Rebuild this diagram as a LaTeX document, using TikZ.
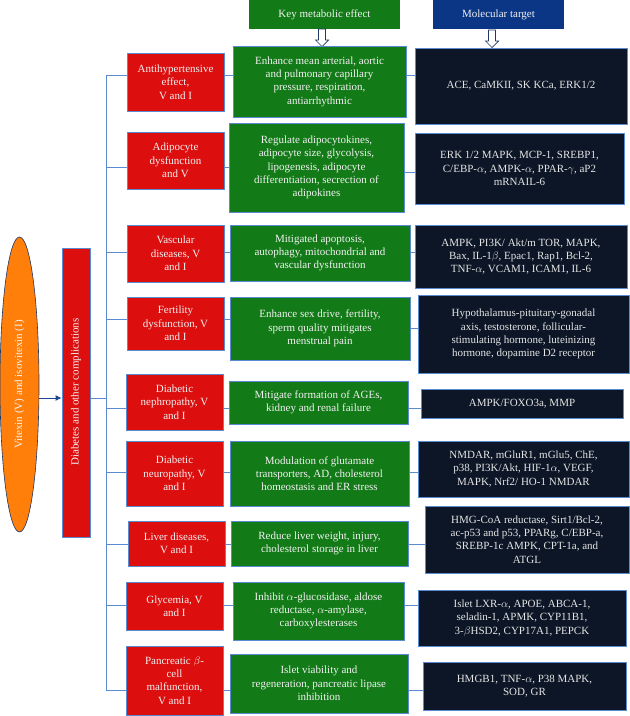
\documentclass[tikz,border=0pt]{standalone}
\usepackage{fontspec}
\setmainfont{Liberation Serif}
\usetikzlibrary{arrows.meta,shapes.geometric}
\definecolor{cred}{HTML}{DD0E0E}
\definecolor{cgreen}{HTML}{137A18}
\definecolor{cdark}{HTML}{0C1626}
\definecolor{chead}{HTML}{0B3585}
\definecolor{corange}{HTML}{FF7F0A}
\definecolor{cline}{HTML}{5A8AD0}
\definecolor{ctxt}{HTML}{F2F2F2}
\definecolor{cnavy}{HTML}{1F3864}
\tikzset{
  basebox/.style={draw=cline, line width=0.8pt, align=center, inner sep=2pt, text=ctxt,
    font=\fontsize{11}{13.3}\selectfont},
  redbox/.style={basebox, fill=cred},
  greenbox/.style={basebox, fill=cgreen},
  darkbox/.style={basebox, fill=cdark, text=black!10},
  headbox/.style={basebox, draw=none, fill=chead},
  conn/.style={draw=cline, line width=0.9pt},
  hollow/.style={draw=cnavy, fill=white, line width=0.7pt},
}
\newcommand\bx[7]{\node[#2, minimum width={#4-#3}, minimum height={#6-#5}] (#1) at ({(#3+#4)/2},{(#5+#6)/2}) {#7};}
\begin{document}
\begin{tikzpicture}[x=1pt,y=-1pt]
\useasboundingbox (0,0) rectangle (630,716);
% headers
\bx{hg}{headbox, fill=cgreen}{249}{400}{0}{29}{Key metabolic effect}
\bx{hb}{headbox}{433}{564}{0}{29}{Molecular target}
\coordinate (ag) at (322,29);
\coordinate (ab) at (492,30);
\draw[hollow] (ag) ++(-3.5,0) -- ++(0,11) -- ++(-3,0) -- ++(6.5,6.5) -- ++(6.5,-6.5) -- ++(-3,0) -- ++(0,-11) -- cycle;
\draw[hollow] (ab) ++(-3.5,0) -- ++(0,11) -- ++(-3,0) -- ++(6.5,6.5) -- ++(6.5,-6.5) -- ++(-3,0) -- ++(0,-11) -- cycle;
% left
\node[draw=cnavy, line width=0.6pt, fill=corange, ellipse, minimum width=39, minimum height=295, inner sep=0pt] (ell) at (19.5,384.5) {};
\node[rotate=90, text=ctxt, font=\fontsize{11}{13.3}\selectfont] (elltxt) at (ell.center) {Vitexin (V) and isovitexin (I)};
\bx{bar}{redbox}{62}{90}{248}{537}{}
\node[rotate=90, text=ctxt, font=\fontsize{11}{13.3}\selectfont] (bartxt) at (76,392) {Diabetes and other complications};
\coordinate (yb) at (0,398);
\draw[conn, -{Latex[length=6pt,width=6pt]}, draw=chead!80!cline, fill=chead!80!cline] (ell.east |- yb) -- (bar.west |- yb);
% trunk
\coordinate (t1) at (106,75);
\coordinate (t2) at (106,167);
\coordinate (t3) at (106,252);
\coordinate (t4) at (106,319);
\coordinate (t5) at (106,408);
\coordinate (t6) at (106,472);
\coordinate (t7) at (106,544);
\coordinate (t8) at (106,605);
\coordinate (t9) at (106,690);
\draw[conn] (bar.east |- yb) -- (t1 |- yb);
\draw[conn] (t1) -- (t9);
% rows
\bx{r1}{redbox}{127}{224}{53}{111}{Antihypertensive\\effect,\\V and I}
\bx{g1}{greenbox}{233}{406}{46}{117}{Enhance mean arterial, aortic\\and pulmonary capillary\\pressure, respiration,\\antiarrhythmic}
\bx{d1}{darkbox}{415}{627}{48}{124}{ACE, CaMKII, SK KCa, ERK1/2}

\bx{r2}{redbox}{127}{224}{132}{189}{Adipocyte\\dysfunction\\and V}
\bx{g2}{greenbox}{229}{404}{123}{212}{Regulate adipocytokines,\\adipocyte size, glycolysis,\\lipogenesis, adipocyte\\differentiation, secrection of\\adipokines}
\bx{d2}{darkbox}{415}{624}{133}{204}{ERK 1/2 MAPK, MCP-1, SREBP1,\\C/EBP-$\alpha$, AMPK-$\alpha$, PPAR-$\gamma$, aP2\\mRNAIL-6}

\bx{r3}{redbox}{127}{224}{225}{282}{Vascular\\diseases, V\\and I}
\bx{g3}{greenbox}{230}{410}{225}{281}{Mitigated apoptosis,\\autophagy, mitochondrial and\\vascular dysfunction}
\bx{d3}{darkbox}{415}{627}{225}{288}{AMPK, PI3K/ Akt/m TOR, MAPK,\\Bax, IL-1$\beta$, Epac1, Rap1, Bcl-2,\\TNF-$\alpha$, VCAM1, ICAM1, IL-6}

\bx{r4}{redbox}{127}{224}{297}{350}{Fertility\\dysfunction, V\\and I}
\bx{g4}{greenbox}{230}{410}{297}{360}{Enhance sex drive, fertility,\\sperm quality mitigates\\menstrual pain}
\bx{d4}{darkbox}{418}{629}{295}{373}{Hypothalamus-pituitary-gonadal\\axis, testosterone, follicular-\\stimulating hormone, luteinizing\\hormone, dopamine D2 receptor}

\bx{r5}{redbox}{126}{223}{374}{430}{Diabetic\\nephropathy, V\\and I}
\bx{g5}{greenbox}{229}{408}{381}{424}{Mitigate formation of AGEs,\\kidney and renal failure}
\bx{d5}{darkbox}{421}{623}{389}{418}{AMPK/FOXO3a, MMP}

\bx{r6}{redbox}{126}{223}{441}{506}{Diabetic\\neuropathy, V\\and I}
\bx{g6}{greenbox}{230}{409}{441}{506}{Modulation of glutamate\\transporters, AD, cholesterol\\homeostasis and ER stress}
\bx{d6}{darkbox}{418}{629}{441}{497}{NMDAR, mGluR1, mGlu5, ChE,\\p38, PI3K/Akt, HIF-1$\alpha$, VEGF,\\MAPK, Nrf2/ HO-1 NMDAR}

\bx{r7}{redbox}{128}{225}{521}{566}{Liver diseases,\\V and I}
\bx{g7}{greenbox}{231}{408}{521}{566}{Reduce liver weight, injury,\\cholesterol storage in liver}
\bx{d7}{darkbox}{425}{629}{506}{573}{HMG-CoA reductase, Sirt1/Bcl-2,\\ac-p53 and p53, PPARg, C/EBP-a,\\SREBP-1c AMPK, CPT-1a, and\\ATGL}

\bx{r8}{redbox}{126}{223}{582}{630}{Glycemia, V\\and I}
\bx{g8}{greenbox}{233}{404}{582}{640}{Inhibit $\alpha$-glucosidase, aldose\\reductase, $\alpha$-amylase,\\carboxylesterases}
\bx{d8}{darkbox}{418}{626}{590}{646}{Islet LXR-$\alpha$, APOE, ABCA-1,\\seladin-1, APMK, CYP11B1,\\3-$\beta$HSD2, CYP17A1, PEPCK}

\bx{r9}{redbox}{126}{223}{646}{715}{Pancreatic $\beta$-\\cell\\malfunction,\\V and I}
\bx{g9}{greenbox}{230}{408}{654}{713}{Islet viability and\\regeneration, pancreatic lipase\\inhibition}
\bx{d9}{darkbox}{423}{626}{662}{710}{HMGB1, TNF-$\alpha$, P38 MAPK,\\SOD, GR}

% connectors
\foreach \i in {1,...,9}{
  \draw[conn] (t\i) -- (t\i -| r\i.west);
  \draw[conn] (r\i.east |- t\i) -- (t\i -| g\i.west);
}
\foreach \i in {1,3,5,6,7,8,9}{
  \draw[conn] (g\i.east |- t\i) -- (t\i -| d\i.west);
}
\coordinate (u2) at (0,172);
\coordinate (u4) at (0,328);
\draw[conn] (g2.east |- u2) -- (u2 -| d2.west);
\draw[conn] (g4.east |- u4) -- (u4 -| d4.west);
\end{tikzpicture}
\end{document}
